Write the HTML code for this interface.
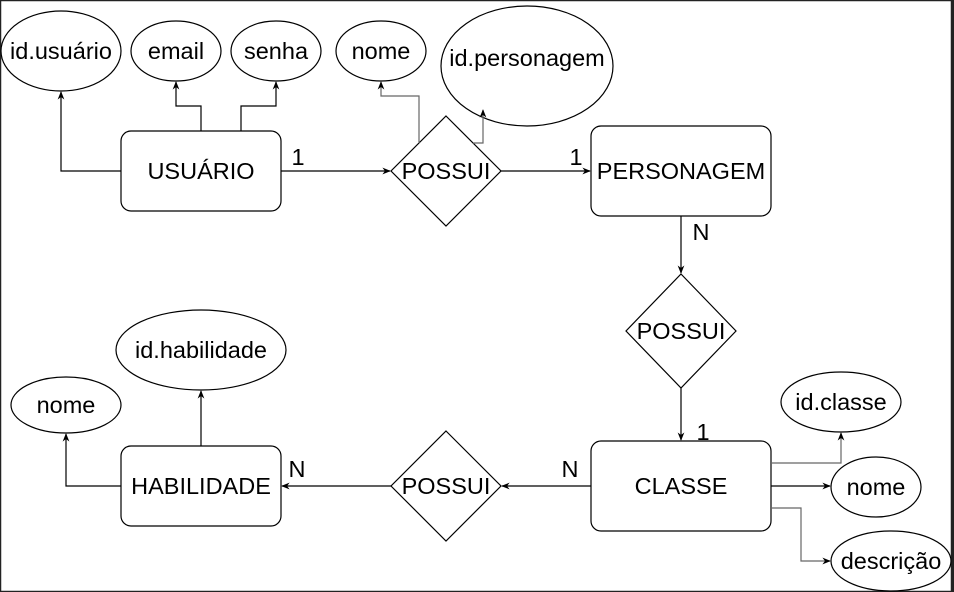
<!DOCTYPE html>
<html><head><meta charset="utf-8"><style>
html,body{margin:0;padding:0;background:#fff}
svg{display:block}
text{font-family:"Liberation Sans",Arial,sans-serif;font-size:23.5px;fill:#000}
</style></head><body>
<svg width="954" height="592" viewBox="0 0 954 592" xmlns="http://www.w3.org/2000/svg">
<defs><marker id="a" viewBox="0 0 10 10" refX="9" refY="5" markerWidth="7" markerHeight="7" orient="auto"><path d="M0,1 L10,5 L0,9 L3,5 z" fill="#000"/></marker></defs>
<rect x="0.5" y="0.5" width="951" height="591" fill="#fff" stroke="#222" stroke-width="1.5"/>
<rect x="951" y="0" width="3" height="592" fill="#222"/>
<g fill="#fff" stroke="#000" stroke-width="1.2">
<ellipse cx="61" cy="51" rx="60" ry="40"/>
<ellipse cx="176" cy="51" rx="45" ry="30"/>
<ellipse cx="276" cy="51" rx="45" ry="30"/>
<ellipse cx="381" cy="51" rx="45" ry="30"/>
<ellipse cx="527" cy="66" rx="86" ry="60"/>
<rect x="121" y="131" width="160" height="80" rx="10"/>
<polygon points="446,116 501,171 446,226 391,171"/>
<rect x="591" y="126" width="180" height="90" rx="10"/>
<polygon points="681,274 736,331 681,388 626,331"/>
<rect x="591" y="441" width="180" height="90" rx="10"/>
<ellipse cx="841" cy="402" rx="60" ry="30"/>
<ellipse cx="876" cy="487" rx="45" ry="30"/>
<ellipse cx="891" cy="561" rx="60" ry="30"/>
<polygon points="446,431 501,486 446,541 391,486"/>
<rect x="121" y="446" width="160" height="80" rx="10"/>
<ellipse cx="66" cy="405" rx="55" ry="28"/>
<ellipse cx="201" cy="350" rx="85" ry="40"/>
</g>
<g fill="none" stroke="#000" stroke-width="1.2" marker-end="url(#a)">
<path d="M121,171 H61 V92"/>
<path d="M201,131 V106 H176 V82"/>
<path d="M241,131 V106 H276 V82"/>
<path d="M281,171 H390"/>
<path d="M419,143 V96 H381 V82" stroke="#666"/>
<path d="M473,143 H483 V110" stroke="#666"/>
<path d="M501,171 H590"/>
<path d="M681,216 V273"/>
<path d="M681,388 V440"/>
<path d="M591,486 H502"/>
<path d="M391,486 H282"/>
<path d="M121,486 H66 V434"/>
<path d="M201,446 V391"/>
<path d="M771,463 H841 V433" stroke="#666"/>
<path d="M771,486 H830"/>
<path d="M771,508 H801 V561 H830" stroke="#666"/>
</g>
<g text-anchor="middle">
<text x="61" y="59">id.usuário</text>
<text x="176" y="59">email</text>
<text x="276" y="59">senha</text>
<text x="381" y="59">nome</text>
<text x="527" y="66">id.personagem</text>
<text x="201" y="179">USUÁRIO</text>
<text x="446" y="179">POSSUI</text>
<text x="681" y="179">PERSONAGEM</text>
<text x="681" y="339">POSSUI</text>
<text x="681" y="494">CLASSE</text>
<text x="841" y="410">id.classe</text>
<text x="876" y="495">nome</text>
<text x="891" y="569">descrição</text>
<text x="446" y="494">POSSUI</text>
<text x="201" y="494">HABILIDADE</text>
<text x="66" y="413">nome</text>
<text x="201" y="358">id.habilidade</text>
<text x="298" y="165">1</text>
<text x="576" y="165">1</text>
<text x="701" y="240">N</text>
<text x="703" y="440">1</text>
<text x="570" y="477">N</text>
<text x="297" y="477">N</text>
</g>
</svg>
</body></html>
